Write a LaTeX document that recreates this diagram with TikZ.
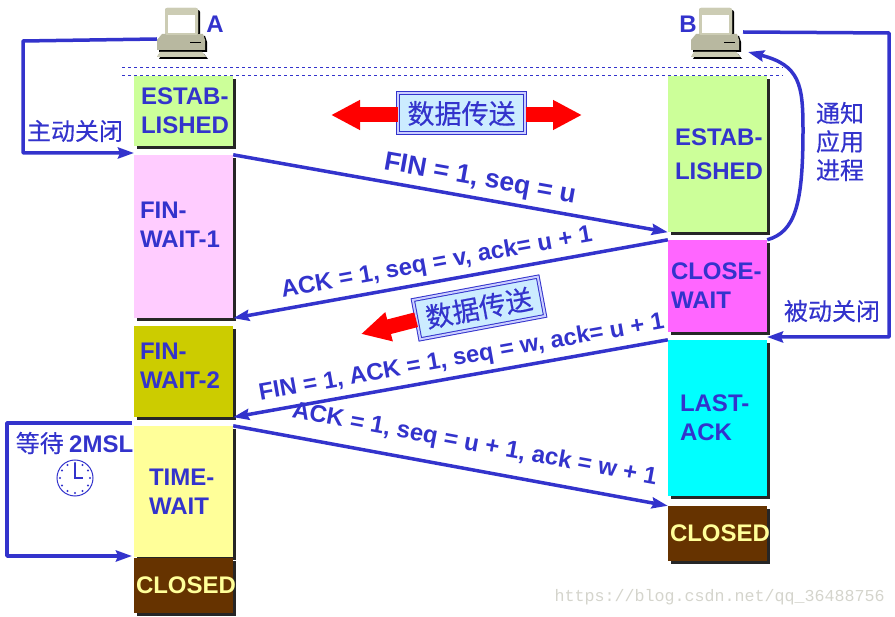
\documentclass[tikz,border=0pt]{standalone}
\usepackage{fontspec}
\setmainfont{Liberation Sans}
\newfontfamily\cjk{Noto Sans CJK SC}[FakeBold=0.4]
\newfontfamily\markfont{Liberation Mono}
\usetikzlibrary{arrows.meta,shadows}

\definecolor{inkblue}{HTML}{3333CC}
\definecolor{estabcol}{HTML}{CCFF99}
\definecolor{finonecol}{HTML}{FFCCFF}
\definecolor{fintwocol}{HTML}{CCCC00}
\definecolor{timecol}{HTML}{FFFF99}
\definecolor{closedcol}{HTML}{663300}
\definecolor{closewcol}{HTML}{FF66FF}
\definecolor{lastcol}{HTML}{00FFFF}
\definecolor{databg}{HTML}{CCECFF}
\definecolor{pcbody}{HTML}{B8B8A0}
\definecolor{pclight}{HTML}{CCCCB4}
\definecolor{markgray}{HTML}{D4D4CC}

\tikzset{
    statebox/.style={text width=99pt-2*#1,inner xsep=#1,inner ysep=0pt,align=left,
        text=inkblue,font=\fontsize{24}{29}\selectfont\bfseries,
        drop shadow={shadow xshift=3pt,shadow yshift=-3pt,opacity=1,fill=black!85}},
    closedbox/.style={statebox=2pt,fill=closedcol,text=timecol,minimum height=55pt},
    wire/.style={draw=inkblue,line width=3.5pt,line join=round,-{Stealth[length=16pt,width=11pt,inset=2pt]}},
    msg/.style={sloped,above,text=inkblue,font=\fontsize{24}{28}\selectfont\bfseries,inner sep=0pt},
    note/.style={text=inkblue,align=center,font=\fontsize{24}{28.5}\selectfont\cjk,inner sep=0pt},
    databox/.style={draw=inkblue,line width=1pt,double=databg!40!blue!30,double distance=2pt,fill=databg,text=inkblue,
        minimum width=127pt,minimum height=40pt,inner sep=0pt,font=\fontsize{27}{30}\selectfont\cjk},
    flow/.style={draw=red,line width=15pt,-{Triangle[length=29pt,width=28pt]}},
    computer/.pic={
        \foreach \dx/\col in {2/black,0/pcbody}{
            \fill[\col,rounded corners=2pt] (8+\dx,\dx) rectangle (41+\dx,27+\dx);
            \fill[\col] (5+\dx,26+\dx) -- (46+\dx,26+\dx) -- (48+\dx,32+\dx) -- (48+\dx,42+\dx) -- (\dx,42+\dx) -- (\dx,32+\dx) -- cycle;
            \fill[\col] (3+\dx,44+\dx) -- (45+\dx,44+\dx) -- (49+\dx,49+\dx) -- (\dx,49+\dx) -- cycle;
        }
        \fill[pclight,rounded corners=2pt] (8,0) rectangle (41,27);
        \fill[white] (11,7) rectangle (38,25);
        \fill[pclight] (3,44) -- (45,44) -- (49,49) -- (0,49) -- cycle;
        \draw[black,line width=0.7pt] (33,34) -- (44,34);
        \coordinate (-left) at (0,31);
        \coordinate (-right) at (52,24);
        \coordinate (-foot) at (57,44);
    }
}

\begin{document}
\begin{tikzpicture}[x=1pt,y=-1pt]
    \useasboundingbox (0,0) rectangle (895,617);

    \draw[inkblue,dashed,line width=0.6pt] (122,67.5) -- (783,67.5) (122,75) -- (783,75);

    \pic (compA) at (157,8) {computer};
    \pic (compB) at (691,8) {computer};
    \node[text=inkblue,font=\fontsize{24}{28}\selectfont\bfseries,inner sep=0pt] (nameA) at (215,24) {A};
    \node[text=inkblue,font=\fontsize{24}{28}\selectfont\bfseries,inner sep=0pt] (nameB) at (688,24) {B};

    % left column
    \node[statebox=7pt,fill=estabcol,minimum height=70pt] (estabA) at (183.5,111) {\mbox{ESTAB-}\\LISHED};
    \node[statebox=6pt,fill=finonecol,minimum height=163pt] (finone) at (183.5,236.5) {FIN-\\WAIT-1\par\vspace{24pt}};
    \node[statebox=6pt,fill=fintwocol,minimum height=91pt] (fintwo) at (183.5,371.5) {FIN-\\WAIT-2\par\vspace{12pt}};
    \node[statebox=15pt,fill=timecol,minimum height=131pt] (timew) at (183.5,491.5) {TIME-\\WAIT};
    \node[closedbox] (closedA) at (183.5,585.5) {CLOSED};

    % right column
    \node[statebox=7pt,fill=estabcol,minimum height=156pt] (estabB) at (717.5,154) {\vspace*{5pt}\mbox{ESTAB-}\\LISHED};
    \node[statebox=3pt,fill=closewcol,minimum height=92pt] (closew) at (717.5,286) {CLOSE-\\WAIT};
    \node[statebox=12pt,fill=lastcol,minimum height=156pt] (lastack) at (717.5,418) {LAST-\\ACK};
    \node[closedbox] (closedB) at (717.5,533.5) {CLOSED};

    % messages
    \draw[wire] (finone.north east) -- node[msg,pos=0.56,yshift=5pt,font=\fontsize{26.5}{30}\selectfont\bfseries] {FIN = 1, seq = u} (estabB.south west);
    \draw[wire] (closew.north west) -- node[msg,pos=0.524,yshift=5pt] {ACK = 1, seq = v, ack= u + 1} (finone.south east);
    \draw[wire] (lastack.north west) -- node[msg,pos=0.467,yshift=5pt,font=\fontsize{23.8}{28}\selectfont\bfseries] {FIN = 1, ACK = 1, seq = w, ack= u + 1} (fintwo.south east);
    \draw[wire] (timew.north east) -- node[msg,pos=0.545,yshift=12pt] {ACK = 1, seq = u + 1, ack = w + 1} (closedB.north west);

    % closing loops
    \coordinate (activeend) at (134,153);
    \coordinate (passiveend) at (767,337);
    \coordinate (waittop) at (132,423);
    \coordinate (waitend) at (132,556);
    \draw[wire] (compA-left) -- (23,41) -- (23,153) -- (activeend);
    \draw[wire] (compB-right) -- (889,33) -- (889,337) -- (passiveend);
    \draw[wire] (waittop) -- (7,423) -- (7,556) -- (waitend);
    \draw[wire] (closew.north east) .. controls (795,232) and (803,205) .. (803,130)
        .. controls (803,85) and (800,65) .. (compB-foot);

    \node[note] (active) at (75,131) {主动关闭};
    \node[note] (passive) at (832,311) {被动关闭};
    \node[note] (notify) at (840,141.5) {通知\\应用\\进程};
    \node[note] (wait) at (74.5,443) {等待 {\rmfamily\bfseries 2MSL}};

    % clock
    \node[circle,draw=inkblue,line width=1pt,minimum size=36pt,inner sep=0pt] (clock) at (75,478) {};
    \foreach \a in {30,60,...,360}
        \fill[inkblue] (clock.center) ++(\a:15) circle (1.1pt);
    \draw[inkblue,line width=2pt] (75,463) -- (clock.center) -- (83,478);

    % data transfer
    \node[databox] (dataone) at (461.5,113.5) {数据传送};
    \coordinate (tipL) at (331,115);
    \coordinate (tipR) at (582,115);
    \draw[flow] (dataone.west |- tipL) -- (tipL);
    \draw[flow] (dataone.east |- tipR) -- (tipR);

    \coordinate (tipD) at (361,334);
    \node[databox,rotate=10.6] (datatwo) at (479,308) {数据传送};
    \draw[flow] (datatwo.west) -- (tipD);

    \node[text=markgray,font=\fontsize{16.67}{20}\selectfont\markfont,anchor=east,inner sep=0pt] (mark) at (885,597) {https://blog.csdn.net/qq\_36488756};
\end{tikzpicture}
\end{document}
